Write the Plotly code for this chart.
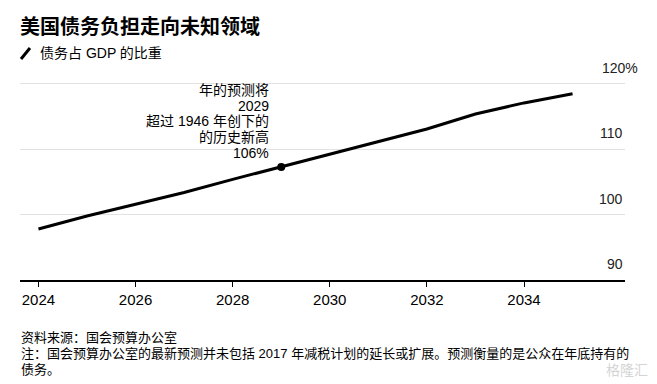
import plotly.graph_objects as go

years = [2024, 2025, 2026, 2027, 2028, 2029, 2030, 2031, 2032, 2033, 2034, 2035]
debt_pct = [97.8, 99.8, 101.6, 103.4, 105.4, 107.3, 109.3, 111.2, 113.1, 115.4, 117.1, 118.5]
y_ticks = [90, 100, 110, 120]
y_tick_labels = ["90", "100", "110", "120%"]
x_ticks = [2024, 2026, 2028, 2030, 2032, 2034]
highlight_year = 2029
highlight_value = 107.3
annot_lines = ["年的预测将", "2029", "超过 1946 年创下的", "的历史新高", "106%"]
annot_values = [119.1, 116.6, 114.3, 111.9, 109.5]

title = "美国债务负担走向未知领域"
subtitle = "债务占 GDP 的比重"
source = "资料来源：国会预算办公室"
note1 = "注：国会预算办公室的最新预测并未包括 2017 年减税计划的延长或扩展。预测衡量的是公众在年底持有的"
note2 = "债务。"

FONT = "Liberation Sans, Arial, Noto Sans CJK SC, sans-serif"

W, H = 657, 384
L, R, T, B = 20, 32, 82, 104
pw, ph = W - L - R, H - T - B

def px_x(px):
    return (px - L) / pw

def px_y(py):
    return (H - B - py) / ph

fig = go.Figure()
fig.add_trace(go.Scatter(x=years, y=debt_pct, mode="lines",
                         line=dict(color="black", width=3), hoverinfo="skip"))
fig.add_trace(go.Scatter(x=[highlight_year], y=[highlight_value], mode="markers",
                         marker=dict(color="black", size=8), hoverinfo="skip"))

annotations = []
# y tick labels above gridlines
for v, lab in zip(y_ticks, y_tick_labels):
    if lab.endswith("%"):
        annotations.append(dict(x=px_x(600), xref="paper", y=v, yref="y", text=lab,
                                xanchor="left", yanchor="bottom", yshift=6, showarrow=False,
                                font=dict(size=14, color="#222", family=FONT)))
    else:
        annotations.append(dict(x=px_x(625), xref="paper", y=v, yref="y", text=lab,
                                xanchor="right", yanchor="bottom", yshift=6, showarrow=False,
                                font=dict(size=14, color="#222", family=FONT)))
# callout text
for line, v in zip(annot_lines, annot_values):
    annotations.append(dict(x=highlight_year, xref="x", y=v, yref="y", text=line,
                            xanchor="right", yanchor="middle", xshift=-10, showarrow=False,
                            font=dict(size=14, color="black", family=FONT)))
# subtitle
annotations.append(dict(x=px_x(38), xref="paper", y=px_y(53), yref="paper", text=subtitle,
                        xanchor="left", yanchor="middle", showarrow=False,
                        font=dict(size=14, color="black", family=FONT)))
# footnotes
for txt, py in [(source, 337), (note1, 353), (note2, 369)]:
    annotations.append(dict(x=px_x(19), xref="paper", y=px_y(py), yref="paper", text=txt,
                            xanchor="left", yanchor="middle", showarrow=False,
                            font=dict(size=13, color="black", family=FONT)))
# watermark
annotations.append(dict(x=px_x(650), xref="paper", y=px_y(370), yref="paper", text="格隆汇",
                        xanchor="right", yanchor="middle", showarrow=False,
                        font=dict(size=14, color="#d4d4d4", family=FONT)))

fig.update_layout(
    width=W, height=H,
    margin=dict(l=L, r=R, t=T, b=B, pad=0),
    paper_bgcolor="white", plot_bgcolor="white",
    showlegend=False,
    font=dict(family=FONT, color="black"),
    title=dict(text="<b>" + title + "</b>", x=20 / W, xanchor="left", xref="container",
               y=1 - 27 / H, yanchor="middle", yref="container",
               font=dict(size=20, color="black", family=FONT)),
    xaxis=dict(range=[2023.62, 2036.08], tickvals=x_ticks, ticktext=[str(t) for t in x_ticks],
               showgrid=False, zeroline=False, showline=True, linecolor="black", linewidth=1.5,
               ticks="outside", ticklen=5, tickcolor="black", tickwidth=1,
               tickfont=dict(size=15, color="black", family=FONT), fixedrange=True),
    yaxis=dict(range=[90, 120.3], tickvals=y_ticks, showticklabels=False,
               showgrid=True, gridcolor="#e2e2e2", gridwidth=1, zeroline=False,
               showline=False, fixedrange=True),
    annotations=annotations,
    shapes=[dict(type="line", xref="paper", yref="paper",
                 x0=px_x(21), y0=px_y(59), x1=px_x(30), y1=px_y(48),
                 line=dict(color="black", width=3))],
)

fig.write_html("out.html", config={"displayModeBar": False},
               post_script="document.body.style.margin='0';")
